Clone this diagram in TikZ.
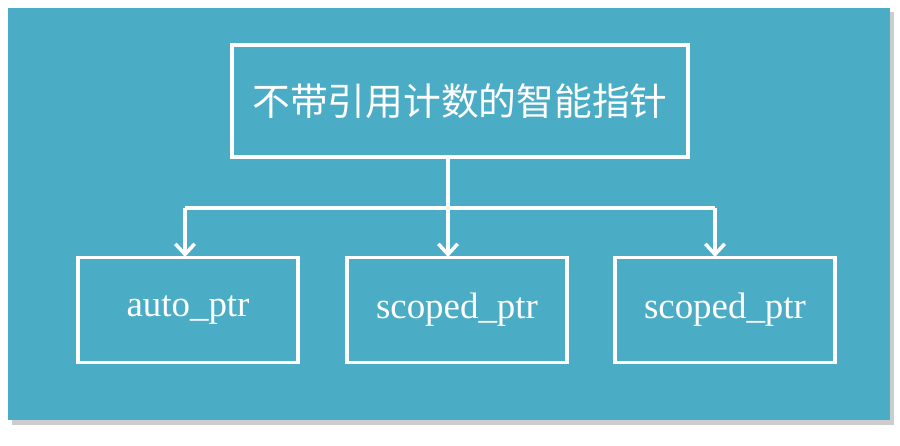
\documentclass[tikz,border=0pt]{standalone}
\usepackage{fontspec}
\setmainfont{Liberation Serif}
\newfontfamily\cjk{Noto Sans CJK SC}
\usetikzlibrary{arrows.meta}
\definecolor{bg}{HTML}{4BACC6}
\begin{document}
\begin{tikzpicture}[x=0.02cm,y=-0.02cm,
  box/.style={draw=white,line width=2pt,minimum height=105*0.02cm,text=white,inner sep=0pt},
  conn/.style={draw=white,line width=2pt,-{Straight Barb[length=6pt,width=11pt]}}]
\useasboundingbox (0,0) rectangle (900,446);
\fill[gray!40] (12,12) rectangle (894,425);
\fill[bg] (8,8) rectangle (890,420);
\node[box,minimum width=456*0.02cm,minimum height=112*0.02cm,font=\cjk\fontsize{21.5}{24}\selectfont] (top) at (460,101) {不带引用计数的智能指针};
\node[box,minimum width=220*0.02cm,font=\fontsize{21}{24}\selectfont] (a) at (188,310) {auto\_ptr};
\node[box,minimum width=220*0.02cm,font=\fontsize{21}{24}\selectfont] (b) at (457,310) {scoped\_ptr};
\node[box,minimum width=220*0.02cm,font=\fontsize{21}{24}\selectfont] (c) at (725,310) {scoped\_ptr};
\coordinate (j) at (448,208);
\draw[white,line width=2pt] (top.south -| j) -- (j);
\draw[white,line width=2pt] (185,208) -- (715,208);
\draw[conn] (185,208) -- (185,257);
\draw[conn] (j) -- (448,257);
\draw[conn] (715,208) -- (715,257);
\end{tikzpicture}
\end{document}
